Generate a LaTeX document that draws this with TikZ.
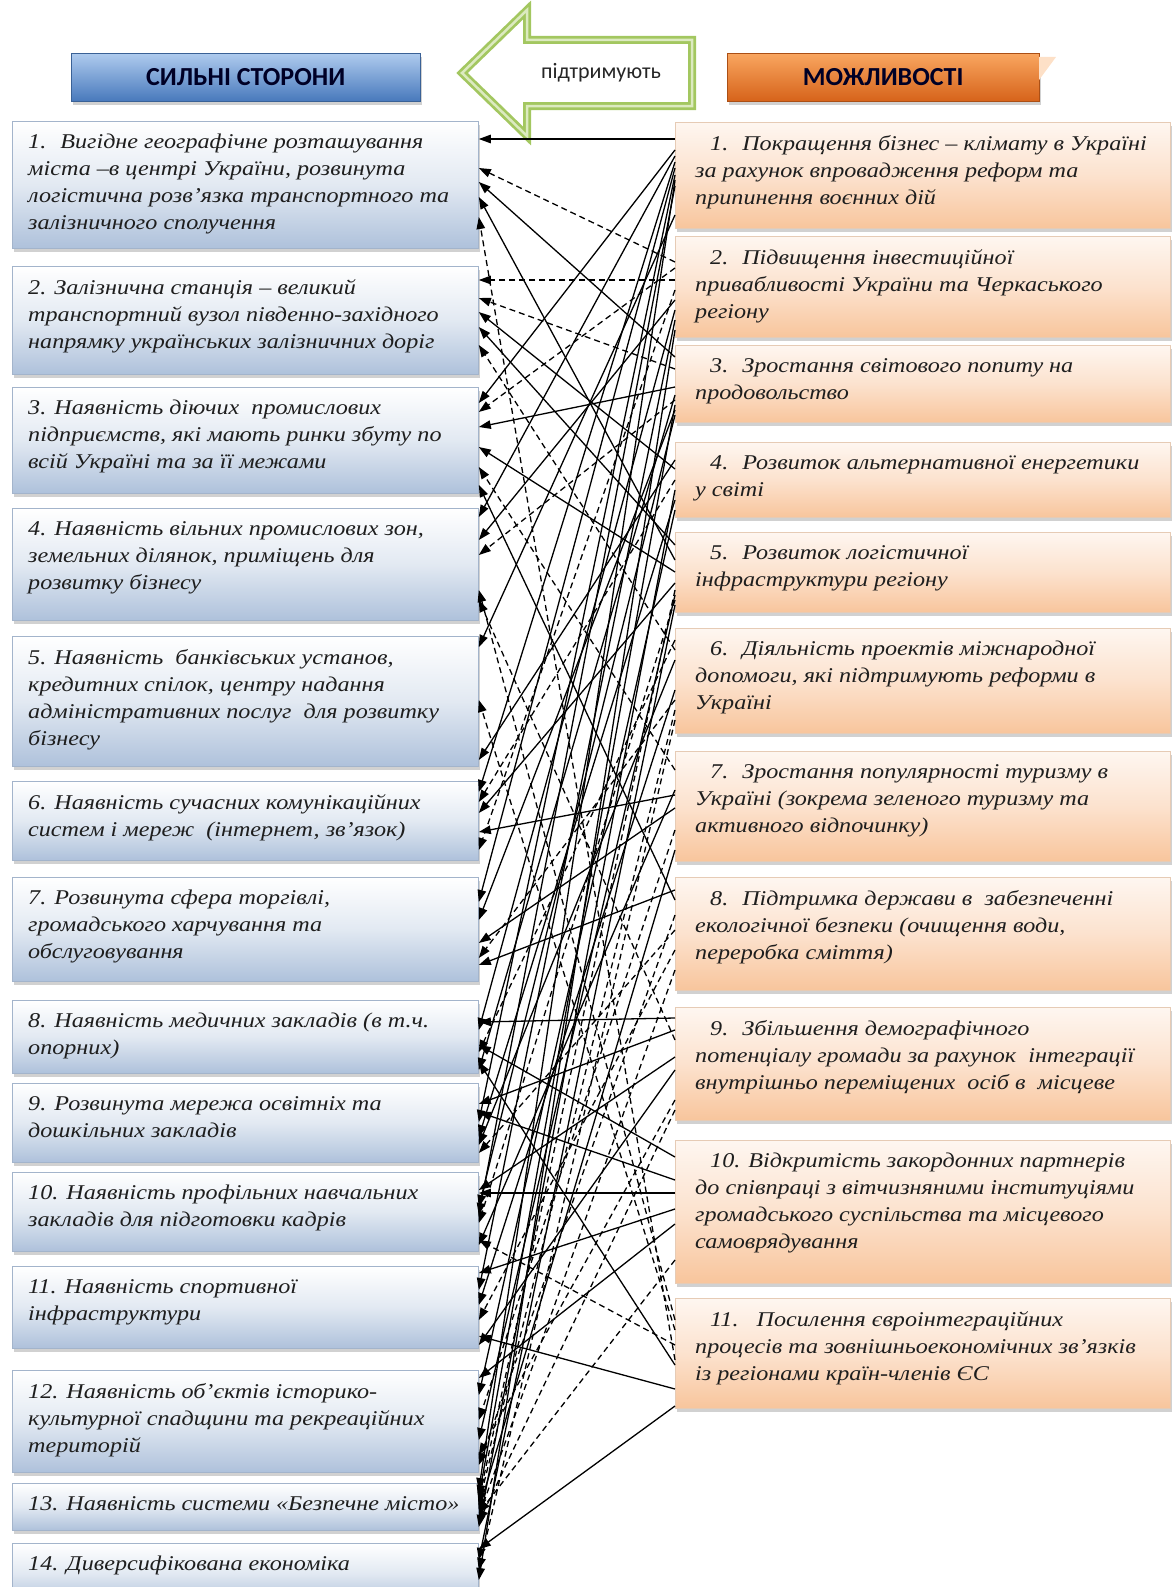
\documentclass[tikz,border=0pt]{standalone}
\usepackage{fontspec}
\setmainfont{Liberation Serif}
\newfontfamily\boxfont[FakeStretch=1.15]{Liberation Serif}
\newfontfamily\headfont{Carlito}
\usetikzlibrary{calc}
\usetikzlibrary{shadows}
\usetikzlibrary{arrows.meta}

\definecolor{lblue}{HTML}{AEC1DB}
\definecolor{lmid}{HTML}{E2E9F2}
\definecolor{lborder}{HTML}{A3B4CB}
\definecolor{rorange}{HTML}{F8C59C}
\definecolor{rmid}{HTML}{FCE2CE}
\definecolor{rborder}{HTML}{E6CBB5}
\definecolor{hbluetop}{HTML}{AFCBEE}
\definecolor{hbluebot}{HTML}{4879BC}
\definecolor{horangetop}{HTML}{F9A660}
\definecolor{horangebot}{HTML}{D6631A}
\definecolor{arrowgreen}{HTML}{A3C760}
\definecolor{arrowlight}{HTML}{DCEAC0}
\definecolor{txtdark}{HTML}{1E1E1E}

\begin{document}
\begin{tikzpicture}[x=1pt,y=-1pt,
  boxshadow/.style={drop shadow={shadow xshift=2pt,shadow yshift=-4pt,opacity=0.3,fill=black!60}},
  lbox/.style={anchor=north west, minimum width=466pt, inner sep=0pt, draw=lborder, line width=0.8pt,
    top color=white, bottom color=lblue, middle color=lmid, boxshadow},
  rbox/.style={anchor=north west, minimum width=495pt, inner sep=0pt, draw=rborder, line width=0.8pt,
    top color=white!70!rmid, bottom color=rorange, middle color=rmid, boxshadow},
  ltext/.style={anchor=north west, inner xsep=16pt, inner ysep=13pt, align=left, text=txtdark,
    font=\boxfont\itshape\fontsize{21}{27}\selectfont},
  rtext/.style={ltext, inner xsep=20pt},
  headbox/.style={anchor=north west, minimum height=48pt, inner sep=0pt, text=black!85!blue,
    font=\headfont\bfseries\fontsize{26}{30}\selectfont, boxshadow},
  link/.style={line width=1.3pt, -{Triangle[length=12pt,width=8.5pt]}},
  solidlink/.style={link},
  dashlink/.style={link, dash pattern=on 6pt off 4pt},
]
\useasboundingbox (0,0) rectangle (1174,1587);
\clip (0,0) rectangle (1174,1587);

% headers
\node[headbox, minimum width=349pt, draw=hbluebot!80!black, top color=hbluetop, bottom color=hbluebot] (sh) at (71,53) {СИЛЬНІ СТОРОНИ};
\node[headbox, minimum width=312pt, draw=horangebot!80!black, top color=horangetop, bottom color=horangebot] (oh) at (727,53) {МОЖЛИВОСТІ};
\fill[horangetop!35] (1039,57) -- (1056,57) -- (1039,80) -- cycle;

% arrow "supports"
\draw[arrowgreen, line width=8pt, line join=miter, fill=white] (462,73) -- (527,10) -- (527,40) -- (692,40) -- (692,106) -- (527,106) -- (527,136) -- cycle;
\draw[arrowlight, line width=2.5pt, line join=miter] (462,73) -- (527,10) -- (527,40) -- (692,40) -- (692,106) -- (527,106) -- (527,136) -- cycle;
\node[font=\headfont\fontsize{22}{26}\selectfont, text=black!85] (sup) at (601,73) {підтримують};

% strengths
\node[lbox, minimum height=127pt] (l1) at (12,121) {};
\node[lbox, minimum height=108pt] (l2) at (12,266) {};
\node[lbox, minimum height=106pt] (l3) at (12,387) {};
\node[lbox, minimum height=112pt] (l4) at (12,508) {};
\node[lbox, minimum height=130pt] (l5) at (12,636) {};
\node[lbox, minimum height=79pt] (l6) at (12,781) {};
\node[lbox, minimum height=104pt] (l7) at (12,877) {};
\node[lbox, minimum height=73pt] (l8) at (12,1000) {};
\node[lbox, minimum height=79pt] (l9) at (12,1083) {};
\node[lbox, minimum height=79pt] (l10) at (12,1172) {};
\node[lbox, minimum height=82pt] (l11) at (12,1266) {};
\node[lbox, minimum height=102pt] (l12) at (12,1370) {};
\node[lbox, minimum height=47pt] (l13) at (12,1483) {};
\node[lbox, minimum height=60pt] (l14) at (12,1543) {};

\node[ltext] (l1t) at (l1.north west) {1.\hspace{14pt}Вигідне географічне розташування\\міста –в центрі України, розвинута\\логістична розв’язка транспортного та\\залізничного сполучення};
\node[ltext] (l2t) at (l2.north west) {2. Залізнична станція – великий\\транспортний вузол південно-західного\\напрямку українських залізничних доріг};
\node[ltext] (l3t) at (l3.north west) {3. Наявність діючих\ \ промислових\\підприємств, які мають ринки збуту по\\всій Україні та за її межами};
\node[ltext] (l4t) at (l4.north west) {4. Наявність вільних промислових зон,\\земельних ділянок, приміщень для\\розвитку бізнесу};
\node[ltext] (l5t) at (l5.north west) {5. Наявність\ \ банківських установ,\\кредитних спілок, центру надання\\адміністративних послуг\ \ для розвитку\\бізнесу};
\node[ltext] (l6t) at (l6.north west) {6. Наявність сучасних комунікаційних\\систем і мереж\ \ (інтернет, зв’язок)};
\node[ltext] (l7t) at (l7.north west) {7. Розвинута сфера торгівлі,\\громадського харчування та\\обслуговування};
\node[ltext] (l8t) at (l8.north west) {8. Наявність медичних закладів (в т.ч.\\опорних)};
\node[ltext] (l9t) at (l9.north west) {9. Розвинута мережа освітніх та\\дошкільних закладів};
\node[ltext] (l10t) at (l10.north west) {10. Наявність профільних навчальних\\закладів для підготовки кадрів};
\node[ltext] (l11t) at (l11.north west) {11. Наявність спортивної\\інфраструктури};
\node[ltext] (l12t) at (l12.north west) {12. Наявність об’єктів історико-\\культурної спадщини та рекреаційних\\територій};
\node[ltext] (l13t) at (l13.north west) {13. Наявність системи «Безпечне місто»};
\node[ltext] (l14t) at (l14.north west) {14. Диверсифікована економіка};

% opportunities
\node[rbox, minimum height=106pt] (r1) at (675,122) {};
\node[rbox, minimum height=101pt] (r2) at (675,236) {};
\node[rbox, minimum height=77pt] (r3) at (675,345) {};
\node[rbox, minimum height=75pt] (r4) at (675,442) {};
\node[rbox, minimum height=80pt] (r5) at (675,532) {};
\node[rbox, minimum height=105pt] (r6) at (675,628) {};
\node[rbox, minimum height=110pt] (r7) at (675,751) {};
\node[rbox, minimum height=113pt] (r8) at (675,877) {};
\node[rbox, minimum height=113pt] (r9) at (675,1007) {};
\node[rbox, minimum height=143pt] (r10) at (675,1140) {};
\node[rbox, minimum height=110pt] (r11) at (675,1298) {};

\node[rtext] (r1t) at (r1.north west) {\hspace*{15pt}1.\hspace{14pt}Покращення бізнес – клімату в Україні\\за рахунок впровадження реформ та\\припинення воєнних дій};
\node[rtext] (r2t) at (r2.north west) {\hspace*{15pt}2.\hspace{14pt}Підвищення інвестиційної\\привабливості України та Черкаського\\регіону};
\node[rtext] (r3t) at (r3.north west) {\hspace*{15pt}3.\hspace{14pt}Зростання світового попиту на\\продовольство};
\node[rtext] (r4t) at (r4.north west) {\hspace*{15pt}4.\hspace{14pt}Розвиток альтернативної енергетики\\у світі};
\node[rtext] (r5t) at (r5.north west) {\hspace*{15pt}5.\hspace{14pt}Розвиток логістичної\\інфраструктури регіону};
\node[rtext] (r6t) at (r6.north west) {\hspace*{15pt}6.\hspace{14pt}Діяльність проектів міжнародної\\допомоги, які підтримують реформи в\\Україні};
\node[rtext] (r7t) at (r7.north west) {\hspace*{15pt}7.\hspace{14pt}Зростання популярності туризму в\\Україні (зокрема зеленого туризму та\\активного відпочинку)};
\node[rtext] (r8t) at (r8.north west) {\hspace*{15pt}8.\hspace{14pt}Підтримка держави в\ \ забезпеченні\\екологічної безпеки (очищення води,\\переробка сміття)};
\node[rtext] (r9t) at (r9.north west) {\hspace*{15pt}9.\hspace{14pt}Збільшення демографічного\\потенціалу громади за рахунок\ \ інтеграції\\внутрішньо переміщених\ \ осіб в\ \ місцеве};
\node[rtext] (r10t) at (r10.north west) {\hspace*{15pt}10. Відкритість закордонних партнерів\\до співпраці з вітчизняними інституціями\\громадського суспільства та місцевого\\самоврядування};
\node[rtext] (r11t) at (r11.north west) {\hspace*{15pt}11.\hspace{18pt}Посилення євроінтеграційних\\процесів та зовнішньоекономічних зв’язків\\із регіонами країн-членів ЄС};

% links: opportunity -> strength
\draw[solidlink] ($(r1.north west)+(0,17)$) -- ($(l1.north east)+(0,18)$);
\draw[dashlink] ($(r2.north west)+(0,26)$) -- ($(l1.north east)+(0,47)$);
\draw[solidlink] ($(r3.north west)+(0,12)$) -- ($(l1.north east)+(0,61)$);
\draw[solidlink] ($(r5.north west)+(0,28)$) -- ($(l1.north east)+(0,76)$);
\draw[dashlink] ($(r11.north west)+(0,62)$) -- ($(l1.north east)+(0,96)$);

\draw[dashlink] ($(r2.north west)+(0,44)$) -- ($(l2.north east)+(0,14)$);
\draw[dashlink] ($(r3.north west)+(0,24)$) -- ($(l2.north east)+(0,32)$);
\draw[solidlink] ($(r4.north west)+(0,27)$) -- ($(l2.north east)+(0,46)$);
\draw[solidlink] ($(r5.north west)+(0,13)$) -- ($(l2.north east)+(0,61)$);
\draw[dashlink] ($(r6.north west)+(0,22)$) -- ($(l2.north east)+(0,79)$);

\draw[solidlink] ($(r1.north west)+(0,28)$) -- ($(l3.north east)+(0,16)$);
\draw[dashlink] ($(r2.north west)+(0,32)$) -- ($(l3.north east)+(0,25)$);
\draw[solidlink] ($(r3.north west)+(0,42)$) -- ($(l3.north east)+(0,40)$);
\draw[solidlink] ($(r5.north west)+(0,40)$) -- ($(l3.north east)+(0,60)$);
\draw[dashlink] ($(r7.north west)+(0,19)$) -- ($(l3.north east)+(0,80)$);
\draw[solidlink] ($(r8.north west)+(0,23)$) -- ($(l3.north east)+(0,98)$);

\draw[solidlink] ($(r1.north west)+(0,34)$) -- ($(l4.north east)+(0,9)$);
\draw[solidlink] ($(r2.north west)+(0,64)$) -- ($(l4.north east)+(0,32)$);
\draw[dashlink] ($(r3.north west)+(0,55)$) -- ($(l4.north east)+(0,47)$);
\draw[dashlink] ($(r9.north west)+(0,33)$) -- ($(l4.north east)+(0,92)$);
\draw[dashlink] ($(r11.north west)+(0,22)$) -- ($(l4.north east)+(0,82)$);

\draw[solidlink] ($(r1.north west)+(0,93)$) -- ($(l5.north east)+(0,11)$);
\draw[dashlink] ($(r11.north west)+(0,32)$) -- ($(l5.north east)+(0,64)$);
\draw[solidlink] ($(r4.north west)+(0,18)$) -- ($(l5.north east)+(0,124)$);

\draw[solidlink] ($(r1.north west)+(0,40)$) -- ($(l6.north east)+(0,11)$);
\draw[dashlink] ($(r4.north west)+(0,38)$) -- ($(l6.north east)+(0,21)$);
\draw[solidlink] ($(r5.north west)+(0,51)$) -- ($(l6.north east)+(0,32)$);
\draw[solidlink] ($(r7.north west)+(0,44)$) -- ($(l6.north east)+(0,51)$);
\draw[dashlink] ($(r2.north west)+(0,54)$) -- ($(l6.north east)+(0,69)$);

\draw[solidlink] ($(r1.north west)+(0,46)$) -- ($(l7.north east)+(0,25)$);
\draw[solidlink] ($(r3.north west)+(0,65)$) -- ($(l7.north east)+(0,43)$);
\draw[solidlink] ($(r7.north west)+(0,57)$) -- ($(l7.north east)+(0,66)$);
\draw[dashlink] ($(r6.north west)+(0,72)$) -- ($(l7.north east)+(0,81)$);
\draw[solidlink] ($(r8.north west)+(0,13)$) -- ($(l7.north east)+(0,88)$);

\draw[solidlink] ($(r9.north west)+(0,11)$) -- ($(l8.north east)+(0,22)$);
\draw[solidlink] ($(r10.north west)+(0,17)$) -- ($(l8.north east)+(0,45)$);
\draw[solidlink] ($(r11.north west)+(0,67)$) -- ($(l8.north east)+(0,62)$);
\draw[solidlink] ($(r2.north west)+(0,74)$) -- ($(l8.north east)+(0,30)$);
\draw[dashlink] ($(r6.north west)+(0,12)$) -- ($(l8.north east)+(0,52)$);
\draw[solidlink] ($(r3.north west)+(0,50)$) -- ($(l8.north east)+(0,70)$);

\draw[solidlink] ($(r9.north west)+(0,23)$) -- ($(l9.north east)+(0,21)$);
\draw[solidlink] ($(r10.north west)+(0,40)$) -- ($(l9.north east)+(0,29)$);
\draw[solidlink] ($(r1.north west)+(0,53)$) -- ($(l9.north east)+(0,39)$);
\draw[solidlink] ($(r4.north west)+(0,58)$) -- ($(l9.north east)+(0,54)$);
\draw[dashlink] ($(r8.north west)+(0,53)$) -- ($(l9.north east)+(0,70)$);
\draw[solidlink] ($(r6.north west)+(0,32)$) -- ($(l9.north east)+(0,62)$);

\draw[solidlink] ($(r9.north west)+(0,50)$) -- ($(l10.north east)+(0,18)$);
\draw[solidlink] ($(r10.north west)+(0,53)$) -- ($(l10.north east)+(0,21)$);
\draw[solidlink] ($(r3.north west)+(0,70)$) -- ($(l10.north east)+(0,35)$);
\draw[dashlink] ($(r5.north west)+(0,68)$) -- ($(l10.north east)+(0,51)$);
\draw[dashlink] ($(r11.north west)+(0,47)$) -- ($(l10.north east)+(0,68)$);
\draw[solidlink] ($(r7.north west)+(0,39)$) -- ($(l10.north east)+(0,73)$);
\draw[solidlink] ($(r1.north west)+(0,64)$) -- ($(l10.north east)+(0,43)$);

\draw[solidlink] ($(r10.north west)+(0,69)$) -- ($(l11.north east)+(0,7)$);
\draw[solidlink] ($(r11.north west)+(0,91)$) -- ($(l11.north east)+(0,70)$);
\draw[solidlink] ($(r2.north west)+(0,84)$) -- ($(l11.north east)+(0,24)$);
\draw[solidlink] ($(r6.north west)+(0,62)$) -- ($(l11.north east)+(0,39)$);
\draw[dashlink] ($(r8.north west)+(0,73)$) -- ($(l11.north east)+(0,54)$);
\draw[solidlink] ($(r9.north west)+(0,63)$) -- ($(l11.north east)+(0,79)$);

\draw[solidlink] ($(r10.north west)+(0,84)$) -- ($(l12.north east)+(0,8)$);
\draw[solidlink] ($(r4.north west)+(0,68)$) -- ($(l12.north east)+(0,25)$);
\draw[dashlink] ($(r7.north west)+(0,79)$) -- ($(l12.north east)+(0,50)$);
\draw[solidlink] ($(r5.north west)+(0,63)$) -- ($(l12.north east)+(0,70)$);
\draw[dashlink] ($(r9.north west)+(0,93)$) -- ($(l12.north east)+(0,85)$);
\draw[dashlink] ($(r8.north west)+(0,38)$) -- ($(l12.north east)+(0,95)$);

\draw[solidlink] ($(r1.north west)+(0,58)$) -- ($(l13.north east)+(0,7)$);
\draw[solidlink] ($(r3.north west)+(0,60)$) -- ($(l13.north east)+(0,14)$);
\draw[dashlink] ($(r5.north west)+(0,58)$) -- ($(l13.north east)+(0,17)$);
\draw[dashlink] ($(r6.north west)+(0,82)$) -- ($(l13.north east)+(0,21)$);
\draw[solidlink] ($(r7.north west)+(0,99)$) -- ($(l13.north east)+(0,27)$);
\draw[dashlink] ($(r10.north west)+(0,120)$) -- ($(l13.north east)+(0,30)$);
\draw[dashlink] ($(r8.north west)+(0,93)$) -- ($(l13.north east)+(0,33)$);
\draw[dashlink] ($(r9.north west)+(0,103)$) -- ($(l13.north east)+(0,39)$);
\draw[solidlink] ($(r4.north west)+(0,48)$) -- ($(l13.north east)+(0,44)$);

\draw[solidlink] ($(r11.north west)+(0,108)$) -- ($(l14.north east)+(0,6)$);
\draw[solidlink] ($(r5.north west)+(0,73)$) -- ($(l14.north east)+(0,17)$);
\draw[dashlink] ($(r6.north west)+(0,92)$) -- ($(l14.north east)+(0,27)$);
\draw[solidlink] ($(r2.north west)+(0,94)$) -- ($(l14.north east)+(0,37)$);
\end{tikzpicture}
\end{document}
